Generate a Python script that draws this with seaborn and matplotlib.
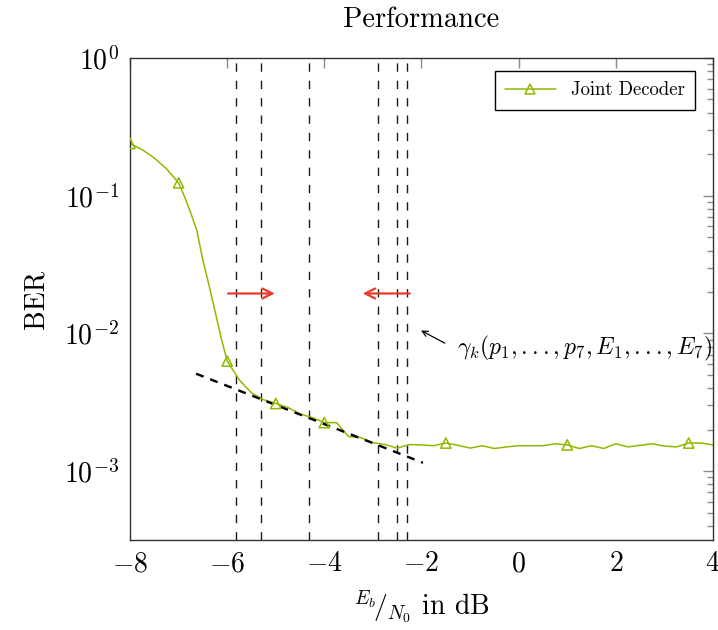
import numpy as np
import pandas as pd
import matplotlib
matplotlib.use("Agg")
import matplotlib.pyplot as plt
import seaborn as sns
from matplotlib.lines import Line2D
from matplotlib.ticker import FixedLocator, FuncFormatter, LogLocator, NullFormatter

# ---- data ----
snr_db = [-8.0, -7.75, -7.5, -7.25, -7.0, -6.875, -6.75, -6.625, -6.5, -6.375, -6.25, -6.125, -6.0,
          -5.75, -5.5, -5.25, -5.0, -4.75, -4.5, -4.25, -4.0, -3.75,
          -3.5, -3.25, -3.0, -2.75, -2.5, -2.25, -2.0, -1.75, -1.5,
          -1.25, -1.0, -0.75, -0.5, -0.25, 0.0, 0.25, 0.5, 0.75, 1.0,
          1.25, 1.5, 1.75, 2.0, 2.25, 2.5, 2.75, 3.0, 3.25, 3.5, 3.75, 4.0]
ber = [0.240, 0.216, 0.188, 0.157, 0.124, 0.098, 0.075, 0.056, 0.034, 0.0225, 0.0145, 0.0093, 0.0063,
       0.0046, 0.0037, 0.0033, 0.0031, 0.0029, 0.0026, 0.00245, 0.00225, 0.00225,
       0.00178, 0.00175, 0.00161, 0.00156, 0.00147, 0.00156, 0.00155, 0.00153, 0.00160,
       0.00154, 0.00147, 0.00153, 0.00146, 0.00150, 0.00153, 0.00153, 0.00153, 0.00158, 0.00155,
       0.00146, 0.00153, 0.00146, 0.00158, 0.00150, 0.00154, 0.00158, 0.00152, 0.00150, 0.00160, 0.00160, 0.00155]
marker_snr = [-8.0, -7.0, -6.0, -5.0, -4.0, -1.5, 1.0, 3.5]
series_label = "Joint Decoder"

threshold_x = [-5.82, -5.30, -4.32, -2.90, -2.51, -2.30]

fit_x = [-6.64, -1.97]
fit_y = [5.1e-3, 1.15e-3]

arrow_right = ([-5.98, -5.02], 0.0195)
arrow_left = ([-2.24, -3.21], 0.0195)

annot_text = r"$\gamma_k(p_1,{.}{.}{.},p_7,E_1,{.}{.}{.},E_7)$"
annot_tip = (-2.01, 0.0105)
annot_tail = (-1.52, 0.0085)
annot_pos = (-1.27, 0.0078)

x_ticks = [-8, -6, -4, -2, 0, 2, 4]
y_ticks = [1e-3, 1e-2, 1e-1, 1e0]

# ---- style ----
sns.set_theme(style="white")
plt.rcParams["font.family"] = ["cmr10", "DejaVu Serif"]
plt.rcParams["mathtext.fontset"] = "cm"
plt.rcParams["axes.unicode_minus"] = False
plt.rcParams["axes.formatter.use_mathtext"] = True
plt.rcParams["text.color"] = "black"
plt.rcParams["axes.labelcolor"] = "black"
plt.rcParams["xtick.labelcolor"] = "black"
plt.rcParams["ytick.labelcolor"] = "black"

green = "#8fba00"
red = "#e8392b"

fig = plt.figure(figsize=(7.18, 6.30), dpi=100)
ax = fig.add_axes([130/718, 1-540/630, 583/718, 482/630])

df = pd.DataFrame({"snr": snr_db, "ber": ber})
dfm = df[df["snr"].isin(marker_snr)]

sns.lineplot(data=df, x="snr", y="ber", color=green, lw=1.1, ax=ax, legend=False)
sns.scatterplot(data=dfm, x="snr", y="ber", marker="^", s=55, facecolor="none",
                edgecolor=green, linewidth=1.1, ax=ax, legend=False, zorder=4)

for xv in threshold_x:
    ax.axvline(xv, color="0.1", lw=1.0, linestyle=(0, (6, 6.5)), zorder=1)

sns.lineplot(x=fit_x, y=fit_y, color="black", lw=1.7, linestyle=(0, (3.4, 3.0)), ax=ax, legend=False, zorder=3)

for xs, yv in (arrow_right, arrow_left):
    ax.annotate("", xy=(xs[1], yv), xytext=(xs[0], yv),
                arrowprops=dict(arrowstyle="->", color=red, lw=1.6, mutation_scale=18,
                                shrinkA=0, shrinkB=0))

ax.annotate("", xy=annot_tip, xytext=annot_tail,
            arrowprops=dict(arrowstyle="->", color="black", lw=0.9, mutation_scale=10,
                            shrinkA=0, shrinkB=0))
ax.text(annot_pos[0], annot_pos[1], annot_text, fontsize=17, va="center", ha="left")

ax.set_yscale("log")
ax.set_xlim(-8, 4)
ax.set_ylim(10**-3.5, 1.0)

ax.xaxis.set_major_locator(FixedLocator(x_ticks))
ax.xaxis.set_major_formatter(FuncFormatter(lambda v, p: r"$%d$" % v))
ax.yaxis.set_major_locator(FixedLocator(y_ticks))
ax.yaxis.set_major_formatter(FuncFormatter(lambda v, p: r"$10^{%d}$" % round(np.log10(v))))
ax.yaxis.set_minor_locator(LogLocator(base=10, subs=np.arange(2, 10), numticks=20))
ax.yaxis.set_minor_formatter(NullFormatter())

ax.tick_params(which="both", direction="in", top=True, right=True, color="0.55",
               labelsize=20, pad=8, labelcolor="black")
ax.tick_params(which="major", length=7, width=1)
ax.tick_params(which="minor", length=4, width=1)
for sp in ax.spines.values():
    sp.set_color("0.2")
    sp.set_linewidth(1.0)

ax.set_title("Performance", fontsize=20.5, pad=22, color="black")
ax.set_xlabel(r"${}^{E_b}\!/_{N_0}$ in dB", fontsize=20, labelpad=8)
ax.set_ylabel("BER", fontsize=20, labelpad=10)

handle = Line2D([], [], color=green, lw=1.1, marker="^", mfc="none", mec=green, ms=7, mew=1.1)
leg = ax.legend([handle], [series_label], loc="upper right", bbox_to_anchor=(0.969, 0.973),
                borderaxespad=0, fontsize=13.5, handlelength=2.7, fancybox=False,
                framealpha=1, edgecolor="black", borderpad=0.55)
leg.get_frame().set_linewidth(1.0)

fig.savefig("out.png", dpi=100)
